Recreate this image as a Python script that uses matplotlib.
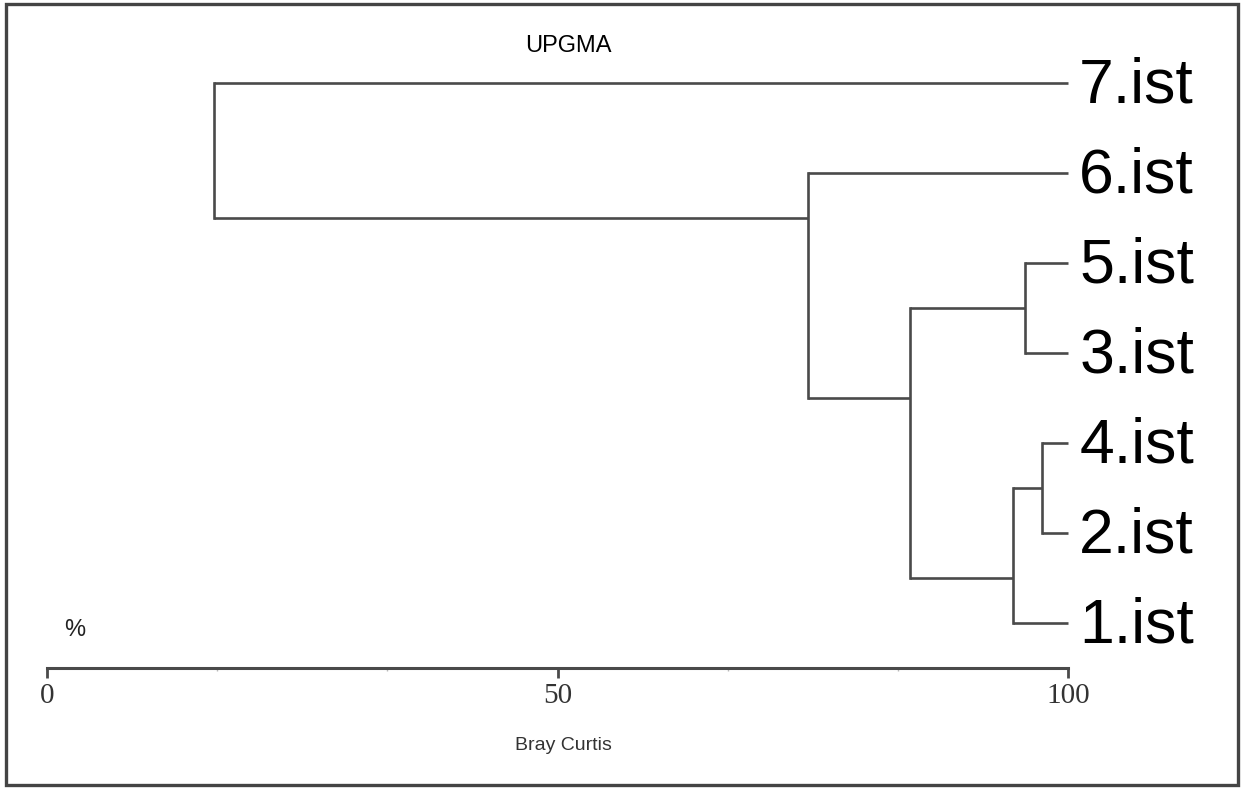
import matplotlib
matplotlib.use('Agg')
import matplotlib.pyplot as plt
from matplotlib.patches import Rectangle
from matplotlib.ticker import FixedLocator

# leaves, top to bottom
leaf_labels = ['7.ist', '6.ist', '5.ist', '3.ist', '4.ist', '2.ist', '1.ist']

# UPGMA merges (Bray Curtis similarity, %)
merge_names = ['A', 'B', 'C', 'D', 'E', 'root']
merge_left = ['4.ist', '5.ist', 'A', 'B', '6.ist', '7.ist']
merge_right = ['2.ist', '3.ist', '1.ist', 'C', 'D', 'E']
merge_sim = [97.5, 95.8, 94.6, 84.5, 74.5, 16.4]

leaf_sim = 100
tick_labels = ['0', '50', '100']
tick_values = [0, 50, 100]

line_color = '#4a4a4a'
W, H = 1244, 789


def main():
    fig = plt.figure(figsize=(W / 100, H / 100), dpi=100)
    ax = fig.add_axes([0, 0, 1, 1])

    # px mapping: x 0 -> 47px, 100 -> 1068px ; leaf i -> 83 + 90*i px
    sx = (1068 - 47) / 100
    ax.set_xlim(-47 / sx, (W - 47) / sx)
    ax.set_ylim((H - 83) / 90, -83 / 90)

    # leaf index ranges and attach positions
    span = {}
    pos = {}
    xpos = {}
    for i, lab in enumerate(leaf_labels):
        span[lab] = (i, i)
        pos[lab] = i
        xpos[lab] = leaf_sim

    for name, a, b, s in zip(merge_names, merge_left, merge_right, merge_sim):
        # horizontal branches from children to this node
        for c in (a, b):
            ax.plot([xpos[c], s], [pos[c], pos[c]], color=line_color,
                    lw=1.9, solid_capstyle='butt')
        # vertical connector
        ax.plot([s, s], [pos[a], pos[b]], color=line_color, lw=1.9,
                solid_capstyle='projecting')
        span[name] = (min(span[a][0], span[b][0]), max(span[a][1], span[b][1]))
        pos[name] = span[a][1] + 0.5
        xpos[name] = s

    # leaf labels
    for i, lab in enumerate(leaf_labels):
        ax.text(101.1, i + 0.03, lab, fontsize=45, family='Liberation Sans',
                va='center', ha='left', color='black')

    # scale axis
    for side in ['top', 'left', 'right']:
        ax.spines[side].set_visible(False)
    ax.spines['bottom'].set_position(('data', 6.5))
    ax.spines['bottom'].set_bounds(0, 100)
    ax.spines['bottom'].set_color(line_color)
    ax.spines['bottom'].set_linewidth(2.2)
    ax.xaxis.set_major_locator(FixedLocator(tick_values))
    ax.xaxis.set_minor_locator(FixedLocator([100 / 6 * k for k in range(1, 6)]))
    ax.set_xticklabels(tick_labels, family='Liberation Serif', fontsize=21,
                       color='#333333')
    ax.tick_params(axis='x', which='major', direction='out', length=7,
                   width=2, color=line_color, pad=4)
    ax.tick_params(axis='x', which='minor', direction='out', length=2,
                   width=1, color='#bbbbbb')
    ax.set_yticks([])

    fig.text(75 / W, 1 - 630 / H, '%', fontsize=17, family='Liberation Sans',
             ha='center', va='center', color='#222222')
    fig.text(563 / W, 1 - 746 / H, 'Bray Curtis', fontsize=14,
             family='Liberation Sans', ha='center', va='center', color='#333333')
    fig.text(568 / W, 1 - 46 / H, 'UPGMA', fontsize=17, family='Liberation Sans',
             ha='center', va='center', color='#000000')

    # outer frame
    fig.add_artist(Rectangle((6 / W, 1 - 785 / H), (1238 - 6) / W,
                             (785 - 4) / H, transform=fig.transFigure,
                             fill=False, lw=2.4, ec='#444444'))

    plt.savefig('out.png', dpi=100)


if __name__ == "__main__":
    main()
